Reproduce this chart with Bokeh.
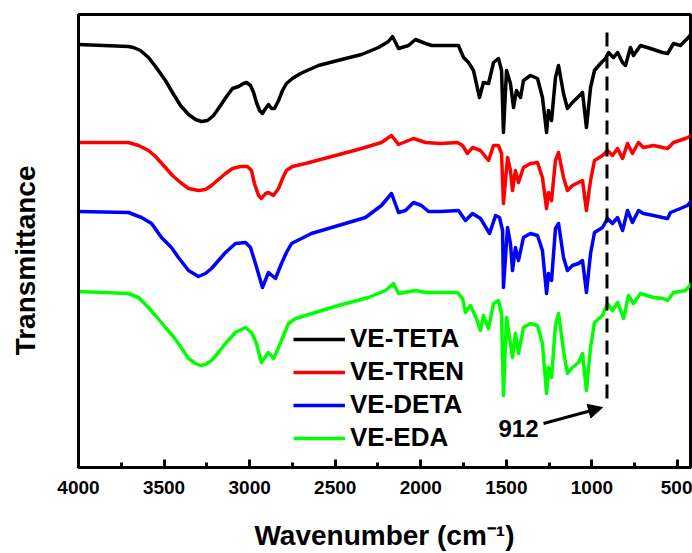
from bokeh.plotting import figure
from bokeh.models import (Range1d, SingleIntervalTicker, FixedTicker, Legend,
                          LegendItem, Arrow, NormalHead)
from bokeh.embed import file_html
from bokeh.resources import INLINE
from bokeh.core.properties import value

FONT = "Liberation Sans"

# ---- data (wavenumber cm-1, transmittance in arbitrary offset units) ----
teta_wn = [4000, 3708, 3679, 3638, 3591, 3550, 3492, 3451, 3404, 3357, 3316, 3281, 3246, 3211, 3170,
           3135, 3100, 3065, 3036, 3018, 2995, 2977, 2960, 2942, 2925, 2907, 2890, 2872, 2855, 2831,
           2808, 2785, 2750, 2703, 2598, 2440, 2346, 2247, 2189, 2165, 2130, 2072, 2031,
           1972, 1937, 1885, 1780, 1750, 1721, 1692, 1657, 1634, 1604, 1575, 1546, 1528, 1517, 1499,
           1476, 1458, 1441, 1417, 1400, 1359, 1318, 1289, 1265, 1254, 1236, 1213, 1195, 1166, 1143,
           1114, 1084, 1055, 1032, 1008, 985, 950, 921, 903, 874, 850, 821, 804, 775, 757, 716, 658,
           588, 558, 523, 483, 442, 418]
teta_t = [423, 421, 420, 417, 410, 401, 387, 375, 362, 353, 348, 346, 347, 352, 362,
          371, 379, 381, 384, 385, 382, 375, 365, 357, 354, 359, 363, 359, 359, 367,
          377, 384, 389, 394, 402, 409, 413, 420, 426, 431, 419, 422, 428,
          424, 422, 422, 422, 410, 405, 397, 370, 385, 384, 405, 409, 397, 335, 397,
          384, 360, 377, 370, 387, 392, 389, 370, 335, 357, 347, 390, 402, 374, 359,
          365, 370, 375, 340, 380, 397, 404, 409, 415, 410, 415, 405, 402, 420, 412, 422, 419,
          415, 414, 424, 422, 429, 434]

tren_wn = [4000, 3708, 3649, 3591, 3550, 3492, 3451, 3404, 3357, 3299, 3258, 3223, 3182, 3141, 3100,
           3053, 3013, 2989, 2972, 2948, 2931, 2907, 2890, 2861, 2831, 2808, 2785, 2750, 2674, 2498,
           2346, 2230, 2171, 2130, 2043, 1972, 1885, 1785, 1756, 1727,
           1698, 1651, 1604, 1575, 1546, 1528, 1517, 1493, 1476, 1464, 1447, 1429, 1400, 1359, 1318,
           1289, 1265, 1254, 1236, 1213, 1195, 1166, 1143, 1114, 1078, 1055, 1032, 1008, 985, 938,
           909, 880, 850, 821, 792, 763, 728, 699, 640, 558, 523, 453, 418]
tren_t = [325, 325, 322, 317, 311, 300, 292, 285, 279, 277, 278, 282, 288, 294, 299,
          301, 301, 297, 284, 272, 269, 274, 275, 272, 279, 289, 297, 301, 304, 312,
          319, 325, 332, 323, 329, 325, 324, 325, 322, 314,
          320, 317, 307, 322, 322, 314, 264, 310, 297, 277, 297, 285, 300, 304, 305,
          290, 259, 275, 267, 307, 315, 290, 277, 282, 285, 287, 257, 287, 307, 312,
          317, 312, 319, 309, 324, 314, 325, 320, 322, 319, 325, 329, 332]

deta_wn = [4000, 3708, 3632, 3573, 3515, 3457, 3416, 3357, 3299, 3258, 3223, 3182, 3141, 3083, 3024,
           2995, 2966, 2937, 2925, 2890, 2849, 2814, 2785, 2755, 2639, 2481, 2323, 2230, 2171, 2130,
           2089, 2043, 1996, 1955, 1885, 1780,
           1739, 1698, 1651, 1598, 1563, 1540, 1522, 1517, 1493, 1476, 1464, 1447, 1429, 1400, 1359,
           1318, 1289, 1265, 1254, 1236, 1213, 1195, 1166, 1143, 1114, 1078, 1055, 1032, 1008, 985,
           938, 909, 880, 850, 821, 792, 763, 728, 699, 640, 588, 558, 541, 483, 442, 418]
deta_t = [256, 255, 250, 244, 230, 220, 210, 197, 191, 194, 199, 207, 215, 224, 225,
          220, 204, 187, 180, 195, 189, 204, 215, 224, 234, 242, 250, 262, 274, 255,
          257, 265, 262, 256, 256, 257,
          247, 254, 249, 234, 252, 250, 237, 180, 240, 224, 197, 220, 207, 230, 234,
          232, 217, 174, 194, 187, 239, 244, 210, 197, 202, 204, 207, 175, 214, 235,
          240, 249, 244, 250, 237, 257, 245, 257, 254, 252, 250, 249, 255, 259, 262, 267]

eda_wn = [4000, 3708, 3649, 3591, 3550, 3492, 3451, 3416, 3357, 3316, 3287, 3258, 3223, 3182, 3141,
          3083, 3024, 2989, 2960, 2942, 2931, 2907, 2890, 2861, 2831, 2802, 2773, 2732, 2674, 2481,
          2306, 2206, 2159, 2130, 2031, 1972, 1885, 1785, 1756,
          1739, 1710, 1675, 1651, 1634, 1604, 1575, 1546, 1528, 1517, 1499, 1476, 1464, 1447, 1429,
          1400, 1359, 1318, 1289, 1265, 1254, 1236, 1213, 1195, 1166, 1143, 1114, 1078, 1055, 1032,
          1008, 985, 938, 909, 880, 850, 815, 786, 757, 716, 640, 582, 558, 523, 453, 418]
eda_t = [176, 174, 170, 160, 152, 140, 132, 124, 109, 104, 102, 103, 107, 115, 124,
         135, 140, 135, 124, 112, 105, 111, 115, 109, 120, 132, 144, 149, 152, 162,
         170, 177, 184, 174, 177, 175, 175, 175, 169,
         155, 162, 149, 137, 152, 139, 164, 167, 154, 72, 150, 124, 110, 134, 114,
         140, 144, 142, 124, 74, 100, 90, 142, 154, 117, 94, 100, 105, 114, 77,
         120, 145, 152, 164, 157, 165, 149, 172, 164, 174, 170, 169, 167, 175, 177, 184]

series_names = ["VE-TETA", "VE-TREN", "VE-DETA", "VE-EDA"]
series_colors = ["#000000", "#ff0000", "#0000ff", "#00ff00"]
series_wn = [teta_wn, tren_wn, deta_wn, eda_wn]
series_t = [teta_t, tren_t, deta_t, eda_t]

# annotation: 912 cm-1 marker
marker_wn = 912
marker_t = [435, 62]
marker_label = "912"
marker_label_pos = (1429, 39)
arrow_start = (1283, 44)
arrow_end = (938, 60)

x_ticks_interval = 500

# y-axis label (non-breaking spaces shift the centred text slightly downward, as in the original)
y_label = "Transmittance" + "\u00a0" * 5

p = figure(width=692, height=553, output_backend="svg", toolbar_location=None,
           x_range=Range1d(4000, 424), y_range=Range1d(0, 453),
           min_border_left=78, min_border_right=2, min_border_top=14, min_border_bottom=86,
           x_axis_label="Wavenumber (cm\u207b\u00b9)", y_axis_label=y_label)
p.grid.visible = False
p.outline_line_color = "black"
p.outline_line_width = 3
p.background_fill_color = "white"
p.border_fill_color = "white"

xa = p.xaxis[0]
xa.ticker = SingleIntervalTicker(interval=x_ticks_interval, num_minor_ticks=2)
xa.major_tick_in = 8
xa.major_tick_out = 0
xa.minor_tick_in = 5
xa.minor_tick_out = 0
xa.major_tick_line_width = 3
xa.minor_tick_line_width = 3
xa.axis_line_width = 3
xa.major_label_text_font = FONT
xa.major_label_text_font_style = "bold"
xa.major_label_text_font_size = "19px"
xa.major_label_text_color = "black"
xa.major_label_standoff = 13
xa.axis_label_text_font = FONT
xa.axis_label_text_font_style = "bold"
xa.axis_label_text_font_size = "28px"
xa.axis_label_text_color = "black"
xa.axis_label_standoff = 23

ya = p.yaxis[0]
ya.ticker = FixedTicker(ticks=[])
ya.axis_line_width = 3
ya.axis_label_text_font = FONT
ya.axis_label_text_font_style = "bold"
ya.axis_label_text_font_size = "28px"
ya.axis_label_text_color = "black"
ya.axis_label_standoff = 38

renderers = []
for wn, t, c in zip(series_wn, series_t, series_colors):
    r = p.line(wn, t, line_color=c, line_width=3.5, line_join="round")
    renderers.append(r)

p.line([marker_wn, marker_wn], marker_t, line_color="black", line_width=3, line_dash="14 8")
p.add_layout(Arrow(x_start=arrow_start[0], y_start=arrow_start[1], x_end=arrow_end[0], y_end=arrow_end[1],
                   line_width=3, line_color="black",
                   end=NormalHead(size=14, fill_color="black", line_color="black")))
p.text(x=[marker_label_pos[0]], y=[marker_label_pos[1]], text=[marker_label],
       text_font=value(FONT), text_font_style="bold", text_font_size="24px",
       text_align="center", text_baseline="middle", text_color="black")

legend = Legend(items=[LegendItem(label=n, renderers=[r]) for n, r in zip(series_names, renderers)],
                location=(215, 14))
legend.border_line_color = None
legend.background_fill_alpha = 0
legend.label_text_font = FONT
legend.label_text_font_style = "bold"
legend.label_text_font_size = "26px"
legend.label_text_color = "black"
legend.glyph_width = 52
legend.glyph_height = 28
legend.label_height = 28
legend.spacing = 2
legend.padding = 0
legend.margin = 0
legend.label_standoff = 5
p.add_layout(legend, "center")

open("out.html", "w").write(file_html(p, INLINE))
